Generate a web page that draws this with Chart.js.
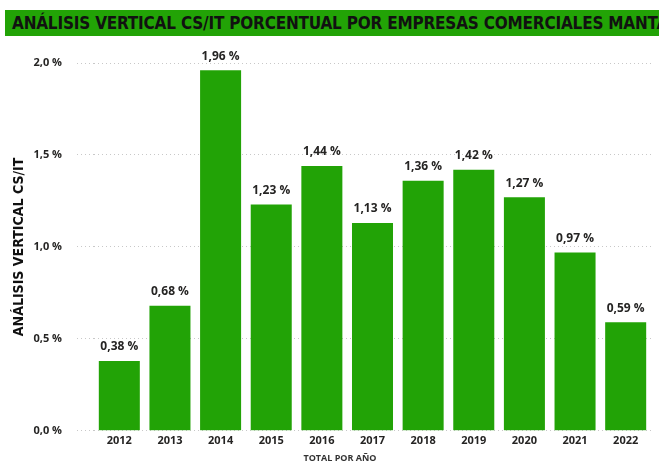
<!DOCTYPE html>
<html>
<head>
<meta charset="utf-8">
<script src="https://cdn.jsdelivr.net/npm/chart.js@4.4.1/dist/chart.umd.min.js"></script>
<style>
  html, body { margin: 0; padding: 0; background: #fff; overflow: hidden; }
  #wrap { position: relative; width: 659px; height: 461px; }
  #title {
    position: absolute; left: 5px; top: 10px; width: 654px; height: 26px;
    background: #22a306; overflow: hidden; white-space: nowrap;
    font-family: "DejaVu Sans Condensed", "DejaVu Sans", sans-serif; font-weight: bold;
    font-size: 17px; line-height: 26px; color: #111; padding-left: 7px; box-sizing: border-box;
    letter-spacing: -0.2px;
  }
  #xtitle {
    position: absolute; left: 290px; width: 100px; top: 451px; text-align: center;
    font-family: "Open Sans", sans-serif; font-weight: bold; font-size: 9px; color: #333;
  }
  canvas { position: absolute; left: 0; top: 0; }
</style>
</head>
<body>
<div id="wrap">
  <canvas id="myChart" width="659" height="461"></canvas>
  <div id="title">ANÁLISIS VERTICAL CS/IT PORCENTUAL POR EMPRESAS COMERCIALES MANTA</div>
  <div id="xtitle">TOTAL POR AÑO</div>
</div>
<script>
const years = ['2012', '2013', '2014', '2015', '2016', '2017', '2018', '2019', '2020', '2021', '2022'];
const ratios = [0.38, 0.68, 1.96, 1.23, 1.44, 1.13, 1.36, 1.42, 1.27, 0.97, 0.59];
const barColor = '#22a306';

function fmt(v, d) {
  return v.toFixed(d).replace('.', ',') + ' %';
}

const valueLabels = {
  id: 'valueLabels',
  afterDatasetsDraw(chart) {
    const ctx = chart.ctx;
    const meta = chart.getDatasetMeta(0);
    ctx.save();
    ctx.font = 'bold 12px "Open Sans"';
    ctx.fillStyle = '#252423';
    ctx.textAlign = 'center';
    ctx.textBaseline = 'middle';
    meta.data.forEach((bar, i) => {
      ctx.fillText(fmt(ratios[i], 2), bar.x, bar.y - 14);
    });
    ctx.restore();
  }
};

const data = {
  labels: years,
  datasets: [{
    data: ratios,
    backgroundColor: barColor,
    borderWidth: 0,
    barPercentage: 0.81,
    categoryPercentage: 1.0
  }]
};

const config = {
  type: 'bar',
  data: data,
  options: {
    responsive: false,
    animation: false,
    layout: { padding: { top: 63, right: 8, bottom: 11, left: 11 } },
    plugins: { legend: { display: false }, tooltip: { enabled: false } },
    scales: {
      x: {
        grid: { display: false, drawTicks: false },
        border: { display: false },
        ticks: { color: '#252423', font: { family: 'Open Sans', weight: 'bold', size: 11 }, padding: 3 }
      },
      y: {
        min: 0, max: 2.0,
        afterFit: scale => { scale.width = 83; },
        border: { display: false, dash: [1, 3] },
        grid: {
          color: '#c8c8c8', tickLength: 17,
          tickColor: '#c8c8c8', tickBorderDash: [1, 3]
        },
        ticks: {
          stepSize: 0.5, padding: 15, color: '#252423',
          font: { family: 'Open Sans', weight: 'bold', size: 11 },
          callback: v => fmt(v, 1)
        },
        title: {
          display: true, text: 'ANÁLISIS VERTICAL CS/IT', color: '#111',
          font: { family: 'DejaVu Sans Condensed', weight: 'bold', size: 14 },
          padding: { top: 0, bottom: 4 }
        }
      }
    }
  },
  plugins: [valueLabels]
};

const myChart = new Chart(document.getElementById('myChart'), config);
</script>
</body>
</html>
